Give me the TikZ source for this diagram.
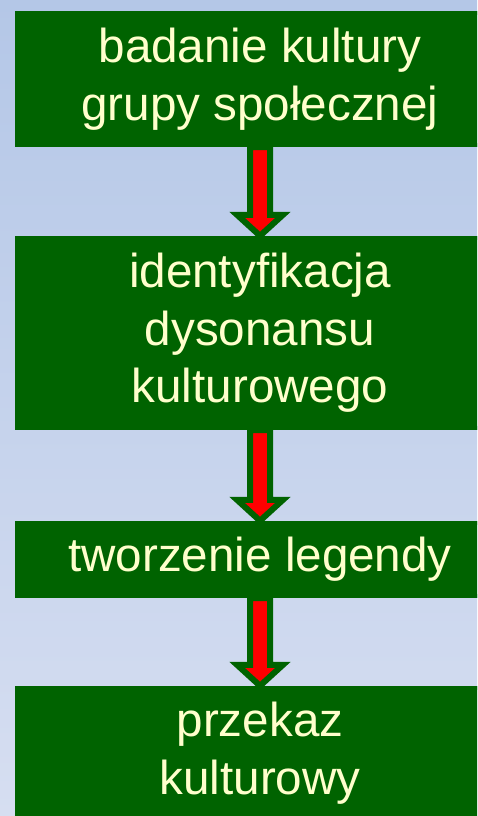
\documentclass[tikz,border=0pt]{standalone}
\usepackage{fontspec}
\setmainfont{Liberation Sans}
\definecolor{bgtop}{RGB}{180,199,231}
\definecolor{bgbot}{RGB}{214,222,241}
\definecolor{boxgreen}{RGB}{0,99,0}
\definecolor{cream}{RGB}{255,255,204}
\definecolor{arrowred}{RGB}{255,0,0}
\tikzset{
  stagebox/.style={fill=boxgreen, draw=none, inner sep=0pt,
    minimum width=490pt, text=cream, align=center,
    font=\fontsize{47.6}{57.5}\selectfont},
  fatarrow/.style={fill=arrowred, draw=boxgreen, line width=6pt, miter limit=10}
}
\begin{document}
\begin{tikzpicture}[x=1pt,y=1pt]
  \useasboundingbox (0,0) rectangle (477,-816);
  \clip (0,0) rectangle (477,-816);
  \shade[top color=bgtop, bottom color=bgbot] (0,0) rectangle (477,-816);

  % stage boxes
  \path
    (260,-79)    node[stagebox, minimum height=136pt] (b1) {badanie kultury\\grupy społecznej}
    (260,-333)   node[stagebox, minimum height=194pt] (b2) {identyfikacja\\dysonansu\\kulturowego}
    (260,-559.5) node[stagebox, minimum height=77pt]  (b3) {tworzenie legendy}
    (260,-753)   node[stagebox, minimum height=134pt] (b4) {przekaz\\kulturowy};

  % block arrows between consecutive stages
  \foreach \a/\b in {b1/b2, b2/b3, b3/b4}{
    \draw[fatarrow]
      ([xshift=-10pt]\a.south) -- ([xshift=-10pt,yshift=21pt]\b.north)
      -- ([xshift=-23pt,yshift=21pt]\b.north) -- (\b.north)
      -- ([xshift=23pt,yshift=21pt]\b.north) -- ([xshift=10pt,yshift=21pt]\b.north)
      -- ([xshift=10pt]\a.south) -- cycle;
  }

  % redraw box edges over the arrow ends
  \foreach \n in {b1,b2,b3,b4}{
    \fill[boxgreen] ([yshift=-4pt]\n.north west) rectangle (\n.north east);
    \fill[boxgreen] (\n.south west) rectangle ([yshift=4pt]\n.south east);
  }
\end{tikzpicture}
\end{document}
